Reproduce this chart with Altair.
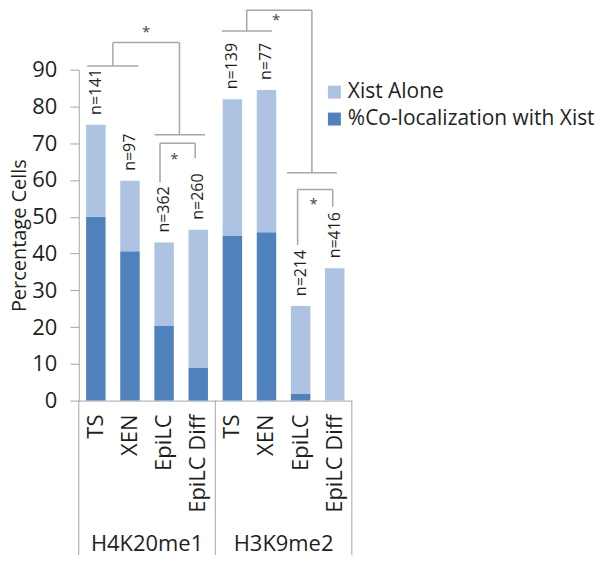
import altair as alt
import pandas as pd

categories = ["TS", "XEN", "EpiLC", "EpiLC Diff", "TS", "XEN", "EpiLC", "EpiLC Diff"]
groups = ["H4K20me1", "H3K9me2"]
group_centers = [1.5, 5.5]
total = [75, 59.8, 43, 46.5, 82, 84.5, 25.7, 36]
coloc = [50, 40.6, 20.4, 8.9, 44.9, 45.8, 1.9, 0]
n_labels = ["n=141", "n=97", "n=362", "n=260", "n=139", "n=77", "n=214", "n=416"]
series = ["Xist Alone", "%Co-localization with Xist"]
y_ticks = [0, 10, 20, 30, 40, 50, 60, 70, 80, 90]

# significance bracket segments (x in category-index units, y in percent)
seg_x1 = [-0.25, 0.5, 0.5, 2.45, 1.72, 1.88, 1.88, 2.91, 3.69, 4.42, 4.42, 6.33, 5.6, 5.91, 5.91, 6.94]
seg_y1 = [91, 91, 97.4, 97.4, 72.3, 59.4, 70, 70, 100.5, 100.5, 106.2, 106.2, 62, 42.3, 57.4, 57.4]
seg_x2 = [1.25, 0.5, 2.45, 2.45, 3.2, 1.88, 2.91, 2.91, 5.16, 4.42, 6.33, 6.33, 7.06, 5.91, 6.94, 6.94]
seg_y2 = [91, 97.4, 97.4, 72.3, 72.3, 70, 70, 65.9, 100.5, 106.2, 106.2, 62, 62, 57.4, 57.4, 52.7]
star_x = [1.47, 2.3, 5.28, 6.38]
star_y = [101.6, 67.2, 104.9, 54.7]
separators = [-0.5, 3.5, 7.5]

FONT = "Open Sans"
TXT = "#1f1f1f"
GRAY = "#a6a6a6"
W, H = 274, 332
HALF = 0.285

rows = []
for i in range(len(categories)):
    rows.append({"idx": i, "xl": i - HALF, "xr": i + HALF, "y0": 0, "y1": coloc[i],
                 "series": series[1], "ord": 0})
    rows.append({"idx": i, "xl": i - HALF, "xr": i + HALF, "y0": coloc[i], "y1": total[i],
                 "series": series[0], "ord": 1})
bars_df = pd.DataFrame(rows)
cat_df = pd.DataFrame({"idx": list(range(len(categories))), "cat": categories,
                       "total": total, "n": n_labels})
seg_df = pd.DataFrame({"x1": seg_x1, "y1": seg_y1, "x2": seg_x2, "y2": seg_y2})
star_df = pd.DataFrame({"x": star_x, "y": star_y, "t": ["*"] * len(star_x)})
grp_df = pd.DataFrame({"x": group_centers, "g": groups})
sep_df = pd.DataFrame({"x": separators})

xscale = alt.Scale(domain=[-0.5, 7.5], nice=False, zero=False)
yscale = alt.Scale(domain=[0, 90], nice=False)

XAX = alt.Axis(labels=False, ticks=False, grid=False, title=None,
               domainColor=GRAY, domainWidth=1)
YAX = alt.Axis(values=y_ticks, grid=False, title="Percentage Cells",
               titleFont=FONT, titleFontSize=20, titleFontWeight="normal",
               titleColor=TXT, titlePadding=2,
               labelFont=FONT, labelFontSize=22, labelColor=TXT, labelPadding=13,
               labelOverlap=False, labelFlush=False,
               tickSize=9, tickColor=GRAY, domainColor=GRAY)


def X(f):
    return alt.X(f, scale=xscale, axis=XAX)


def Y(f):
    return alt.Y(f, scale=yscale, axis=YAX)


bars = alt.Chart(bars_df).mark_bar().encode(
    x=X("xl:Q"),
    x2="xr:Q",
    y=Y("y0:Q"),
    y2="y1:Q",
    color=alt.Color("series:N",
                    scale=alt.Scale(domain=series, range=["#adc3e1", "#4f81bd"]),
                    legend=alt.Legend(title=None, orient="none", legendX=246, legendY=12,
                                      symbolType="square", symbolSize=169, symbolStrokeWidth=0,
                                      labelFont=FONT, labelFontSize=21, labelColor=TXT,
                                      labelLimit=400, labelOffset=3, rowPadding=5)),
    order=alt.Order("ord:Q", sort="ascending"),
)

nlab = alt.Chart(cat_df).mark_text(
    angle=270, align="left", baseline="middle", dx=10,
    font=FONT, fontSize=16, color=TXT
).encode(
    x=X("idx:Q"),
    y=Y("total:Q"),
    text="n:N",
)

segs = alt.Chart(seg_df).mark_rule(color=GRAY, strokeWidth=1.5).encode(
    x=X("x1:Q"), y=Y("y1:Q"),
    x2="x2:Q", y2="y2:Q",
)

stars = alt.Chart(star_df).mark_text(
    font=FONT, fontSize=15, color="#444", baseline="middle", dy=5
).encode(
    x=X("x:Q"), y=Y("y:Q"), text="t:N",
)

catlab = alt.Chart(cat_df).mark_text(
    angle=270, align="right", baseline="middle",
    font=FONT, fontSize=22, color=TXT
).encode(
    x=X("idx:Q"),
    y=alt.value(H + 14),
    text="cat:N",
)

grplab = alt.Chart(grp_df).mark_text(
    baseline="middle", align="center", font=FONT, fontSize=22, color=TXT
).encode(
    x=X("x:Q"),
    y=alt.value(H + 144),
    text="g:N",
)

seps = alt.Chart(sep_df).mark_rule(color=GRAY, strokeWidth=1).encode(
    x=X("x:Q"),
    y=alt.value(H),
    y2=alt.value(H + 155),
)

chart = alt.layer(bars, nlab, segs, stars, catlab, grplab, seps).properties(
    width=W, height=H,
    autosize=alt.AutoSizeParams(type="none"),
    padding={"left": 71, "top": 61, "right": 250, "bottom": 155},
).configure_view(stroke=None)

chart.save("out.html", embed_options={"renderer": "svg", "actions": False})
